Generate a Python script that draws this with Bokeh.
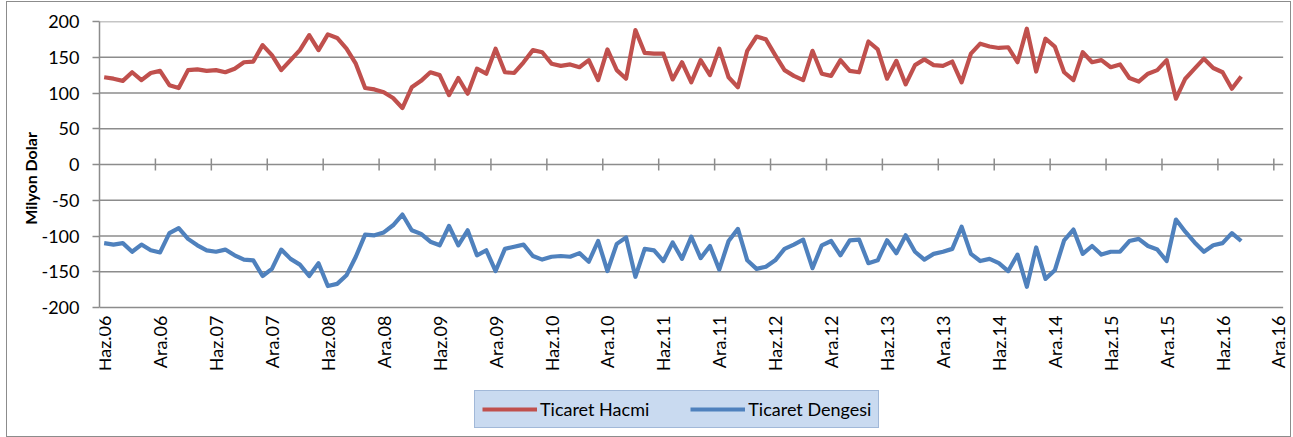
import math
from bokeh.plotting import figure
from bokeh.models import Range1d, FixedTicker, Legend, LegendItem
from bokeh.core.properties import value
from bokeh.embed import file_html
from bokeh.resources import INLINE

# ---- categories (monthly, Haz.06 .. Ara.16) ----
month_names = ["Oca", "Şub", "Mar", "Nis", "May", "Haz", "Tem", "Ağu", "Eyl", "Eki", "Kas", "Ara"]
start_year = 2006
start_month = 6
n_categories = 127
categories = []
for i in range(n_categories):
    m = (start_month - 1 + i) % 12
    yr = start_year + (start_month - 1 + i) // 12
    categories.append(f"{month_names[m]}.{yr % 100:02d}")
label_every = 6

# ---- series (Milyon Dolar), Haz.06 .. Ağu.16 ----
ticaret_hacmi = [
    122, 120, 117, 129, 118, 128, 131, 111, 107, 132,
    133, 131, 132, 129, 134, 143, 144, 167, 153, 132,
    146, 160, 181, 160, 182, 177, 162, 141, 107, 105,
    101, 93, 79, 108, 117, 129, 125, 97, 121, 99,
    134, 127, 162, 129, 128, 143, 160, 157, 141, 138,
    140, 136, 146, 118, 161, 132, 120, 188, 156, 155,
    155, 119, 143, 115, 146, 125, 162, 122, 108, 159,
    179, 175, 153, 132, 124, 118, 159, 127, 124, 146,
    131, 129, 172, 161, 120, 145, 112, 139, 147, 139,
    138, 144, 115, 155, 169, 165, 163, 164, 143, 190,
    130, 176, 165, 129, 118, 157, 143, 146, 136, 140,
    121, 116, 127, 132, 146, 92, 120, 134, 148, 135,
    129, 106, 123,
]
ticaret_dengesi = [
    -110, -112, -110, -122, -112, -120, -123, -96, -89, -104,
    -113, -120, -122, -119, -127, -133, -134, -156, -146, -119,
    -132, -140, -156, -138, -170, -167, -155, -129, -98, -99,
    -95, -85, -70, -92, -97, -108, -113, -86, -113, -92,
    -127, -120, -149, -118, -115, -112, -128, -133, -129, -128,
    -129, -124, -136, -107, -149, -111, -102, -157, -118, -120,
    -135, -109, -132, -101, -131, -114, -147, -107, -90, -134,
    -146, -143, -134, -118, -112, -105, -145, -113, -107, -127,
    -106, -105, -138, -134, -106, -124, -99, -122, -133, -125,
    -122, -118, -87, -125, -135, -132, -138, -149, -126, -171,
    -116, -160, -148, -106, -91, -125, -114, -126, -122, -122,
    -107, -104, -114, -119, -135, -77, -94, -109, -122, -113,
    -110, -96, -107,
]
y_ticks = [-200, -150, -100, -50, 0, 50, 100, 150, 200]
series_names = ["Ticaret Hacmi", "Ticaret Dengesi"]
y_title = "Milyon Dolar"

FONT = "Lato"
GRAY = "#8c8c8c"
RED = "#c0504d"
BLUE = "#4f81bd"

# ---- layout (pixels) ----
MARGIN_LEFT, MARGIN_TOP = 7, 2
W, H = 1283, 434
BORDER_LEFT, BORDER_TOP = 92, 19
CAT_PX = 9.32                        # width of one monthly category
PLOT_PX = 286                        # height of the -200..200 plot area
FRAME_W = W - BORDER_LEFT
FRAME_H = H - BORDER_TOP             # frame reaches down to hold labels + legend
px_per_unit = PLOT_PX / (y_ticks[-1] - y_ticks[0])
y_bottom = y_ticks[-1] - FRAME_H / px_per_unit
x_end = -0.5 + FRAME_W / CAT_PX
TITLE_PAD = 26                       # no-break spaces that lift the title to the plot area's middle

x = list(range(len(ticaret_hacmi)))

p = figure(
    width=W, height=H, margin=(MARGIN_TOP, 0, 0, MARGIN_LEFT),
    x_range=Range1d(-0.5, x_end),
    y_range=Range1d(y_bottom, y_ticks[-1]),
    x_axis_location=None,
    output_backend="svg", toolbar_location=None,
    min_border_left=BORDER_LEFT, min_border_right=0,
    min_border_top=BORDER_TOP, min_border_bottom=0,
)
p.outline_line_color = None
p.background_fill_color = "white"
p.border_fill_color = "white"
p.styles = {"outline": "1px solid #8c8c8c"}

# horizontal gridlines, ending with the last category
p.xgrid.visible = False
p.ygrid.visible = False
p.segment(x0=[-0.5] * len(y_ticks), y0=y_ticks,
          x1=[n_categories - 0.5] * len(y_ticks), y1=y_ticks,
          line_color=GRAY, line_width=1.5)

# y axis over -200..200 only
p.yaxis.bounds = (y_ticks[0], y_ticks[-1])
p.yaxis.ticker = FixedTicker(ticks=y_ticks)
p.yaxis.major_label_overrides = {t: str(t) for t in y_ticks}
p.yaxis.axis_line_color = GRAY
p.yaxis.axis_line_width = 1.5
p.yaxis.major_tick_line_color = GRAY
p.yaxis.major_tick_line_width = 1.5
p.yaxis.major_tick_in = 0
p.yaxis.major_tick_out = 7
p.yaxis.minor_tick_line_color = None
p.yaxis.major_label_standoff = 13
p.yaxis.major_label_text_font = FONT
p.yaxis.major_label_text_font_size = "18px"
p.yaxis.major_label_text_color = "#000000"
p.yaxis.axis_label = "\u00a0" * TITLE_PAD + y_title
p.yaxis.axis_label_text_font = FONT
p.yaxis.axis_label_text_font_size = "16px"
p.yaxis.axis_label_text_font_style = "bold"
p.yaxis.axis_label_text_color = "#000000"
p.yaxis.axis_label_standoff = -2

# tick marks of the category axis (crossing at 0), between categories
label_ticks = list(range(0, n_categories, label_every))
bounds = [t - 0.5 for t in label_ticks if t > 0]
tick_half = 6 / px_per_unit
p.segment(x0=bounds, y0=[-tick_half] * len(bounds), x1=bounds, y1=[tick_half] * len(bounds),
          line_color=GRAY, line_width=1.5)

# category labels, low, rotated
label_y = y_ticks[0] - 8 / px_per_unit
p.text(x=label_ticks, y=[label_y] * len(label_ticks), text=[categories[t] for t in label_ticks],
       angle=math.pi / 2, text_align="right", text_baseline="middle",
       text_font=value(FONT), text_font_size="18px", text_color="#000000")

r1 = p.line(x, ticaret_hacmi, line_color=RED, line_width=4.2, line_join="round")
r2 = p.line(x, ticaret_dengesi, line_color=BLUE, line_width=4.2, line_join="round")

legend = Legend(
    items=[LegendItem(label=series_names[0], renderers=[r1]),
           LegendItem(label=series_names[1], renderers=[r2])],
    orientation="horizontal",
    location=(375, 8),
    glyph_width=55, glyph_height=20,
    label_standoff=3, spacing=41, padding=7, margin=0,
    background_fill_color="#c9daf0", background_fill_alpha=1.0,
    border_line_color="#7a95c0", border_line_width=1.5,
    label_text_font=FONT, label_text_font_size="18px", label_text_color="#000000",
)
p.add_layout(legend, "center")

open("out.html", "w").write(file_html(p, INLINE))
